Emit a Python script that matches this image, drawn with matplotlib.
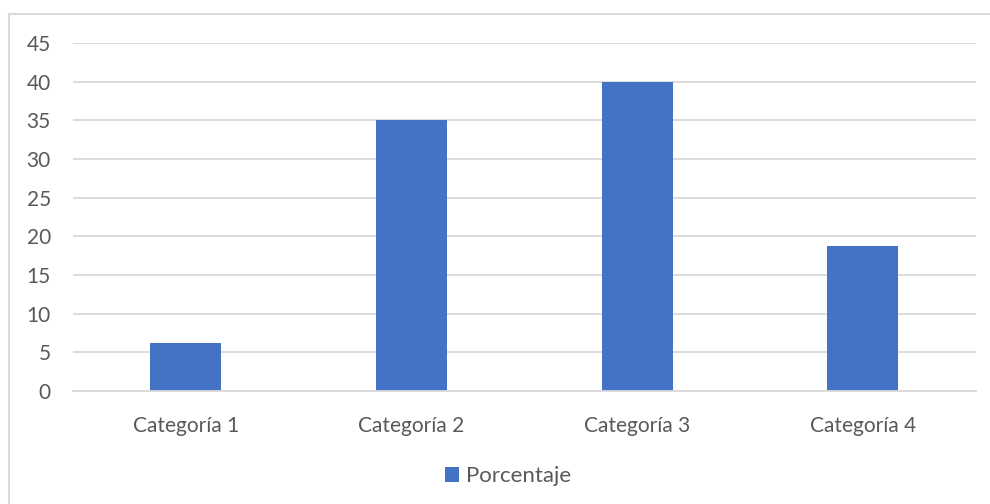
import matplotlib
matplotlib.use("Agg")
import matplotlib.pyplot as plt
from matplotlib.patches import Rectangle, Patch

categories = ["Categoría 1", "Categoría 2", "Categoría 3", "Categoría 4"]
porcentaje = [6.25, 35, 40, 18.75]
y_ticks = [0, 5, 10, 15, 20, 25, 30, 35, 40, 45]
series_name = "Porcentaje"

W, H = 990, 504
fig = plt.figure(figsize=(W / 100, H / 100), dpi=100)
fig.patch.set_facecolor("white")
plt.rcParams["font.family"] = ["Lato", "DejaVu Sans"]

# chart frame (extends past the right and bottom edges)
fig.patches.append(Rectangle((8.5 / W, -0.1), 1.2, 1 - 13.5 / H + 0.1,
                             transform=fig.transFigure, fill=False,
                             edgecolor="#d9d9d9", linewidth=1.5))

left, right, top, bottom = 73, 975.5, 43, 391
ax = fig.add_axes([left / W, 1 - bottom / H, (right - left) / W, (bottom - top) / H])
x = range(len(categories))
ax.bar(x, porcentaje, width=0.315, color="#4472c4", zorder=3)
ax.set_xlim(-0.5, len(categories) - 0.5)
ax.set_ylim(0, 45)
ax.set_yticks(y_ticks)
ax.set_xticks(list(x))
ax.set_xticklabels(categories)
ax.grid(axis="y", color="#d9d9d9", linewidth=1.3, zorder=0)
for s in ["top", "right", "left"]:
    ax.spines[s].set_visible(False)
ax.spines["bottom"].set_color("#d9d9d9")
ax.spines["bottom"].set_linewidth(1.3)
ax.spines["bottom"].set_zorder(4)
ax.tick_params(axis="both", length=0, labelsize=15, labelcolor="#595959")
ax.tick_params(axis="y", pad=16)
ax.tick_params(axis="x", pad=18)

fig.legend(handles=[Patch(facecolor="#4472c4", edgecolor="none")], labels=[series_name],
           loc="center", bbox_to_anchor=(0.513, 1 - 476 / H), frameon=False,
           fontsize=16, labelcolor="#595959", handlelength=0.65, handleheight=0.65,
           handletextpad=0.3)

fig.savefig("out.png", dpi=100, facecolor="white")
